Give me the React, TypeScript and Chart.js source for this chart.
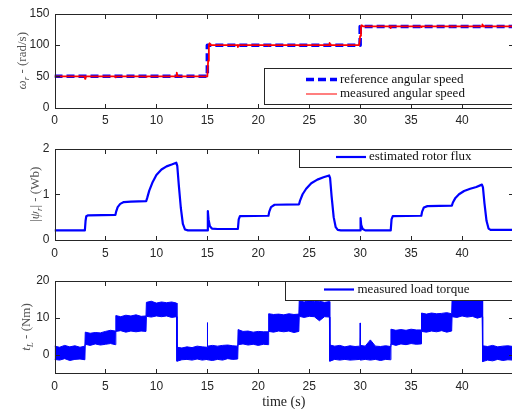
import React, { useEffect, useRef } from 'react';
import { Chart, registerables } from 'chart.js';

Chart.register(...registerables);

// ---------------- data ----------------
const timeTicks = [0, 5, 10, 15, 20, 25, 30, 35, 40];
const speedTicks = [0, 50, 100, 150];
const fluxTicks = [0, 1, 2];
const torqueTicks = [0, 10, 20];

const refSpeedTime = [0, 15, 15, 30, 30, 45];
const refSpeedValue = [50, 50, 100, 100, 130, 130];

const measSpeedTime = [
  0, 2.97, 3.0, 3.04, 5.97, 6.0, 6.04, 8.97, 9.0, 9.04, 11.97, 12.0, 12.06, 12.15,
  15.0, 15.08, 15.15, 15.22, 15.35, 17.97, 18.0, 18.04, 20.97, 21.0, 21.04, 23.97, 24.0, 24.04,
  26.97, 27.0, 27.06, 27.15, 29.9, 30.0, 30.08, 30.15, 30.3, 32.97, 33.0, 33.04, 35.97, 36.0, 36.04,
  38.97, 39.0, 39.04, 41.97, 42.0, 42.06, 42.15, 45,
];
const measSpeedValue = [
  50, 50, 46, 50, 50, 48.5, 50, 50, 49, 50, 50, 56, 51, 50,
  50, 75, 100, 103, 100, 100, 97, 100, 100, 99, 100, 100, 99.5, 100,
  100, 103.5, 101, 100, 100, 115, 130, 132, 130, 130, 127.5, 130, 130, 129, 130,
  130, 129.5, 130, 130, 133.5, 131, 130, 130,
];

const fluxTime = [
  0, 2.98, 3.05, 3.12, 3.3, 5.98, 6.05, 6.2, 6.45, 6.8, 7.5, 9.0, 9.1, 9.3, 9.6, 10.0, 10.5, 11.0, 11.5,
  11.95, 12.05, 12.2, 12.4, 12.6, 12.8, 13.1, 15.0, 15.05, 15.12, 15.25, 15.45, 16.0, 18.0, 18.08, 18.2,
  21.0, 21.08, 21.25, 21.6, 24.0, 24.1, 24.35, 24.7, 25.2, 25.8, 26.4, 26.95, 27.05, 27.2, 27.4, 27.6,
  27.8, 28.1, 30.0, 30.04, 30.1, 30.25, 30.5, 33.0, 33.08, 33.2, 36.0, 36.08, 36.25, 36.6, 39.0, 39.1,
  39.35, 39.7, 40.2, 40.8, 41.4, 41.95, 42.05, 42.2, 42.4, 42.6, 42.8, 45,
];
const fluxValue = [
  0.21, 0.21, 0.42, 0.52, 0.54, 0.55, 0.62, 0.72, 0.79, 0.83, 0.84, 0.85, 0.92, 1.08, 1.25, 1.42, 1.54, 1.61, 1.65,
  1.69, 1.62, 1.2, 0.7, 0.35, 0.23, 0.21, 0.21, 0.63, 0.45, 0.3, 0.25, 0.24, 0.24, 0.45, 0.52,
  0.53, 0.62, 0.72, 0.77, 0.78, 0.86, 1.0, 1.12, 1.24, 1.32, 1.37, 1.41, 1.35, 0.95, 0.5, 0.28,
  0.22, 0.21, 0.21, 0.48, 0.33, 0.24, 0.21, 0.21, 0.45, 0.52, 0.53, 0.62, 0.71, 0.74, 0.75, 0.82,
  0.92, 1.0, 1.07, 1.12, 1.16, 1.21, 1.15, 0.8, 0.42, 0.25, 0.22, 0.22,
];

const torqueTime = [
  0, 0.5, 1, 1.5, 2, 2.5, 2.98,
  3.02, 3.5, 4, 4.5, 5, 5.5, 5.98,
  6.02, 6.5, 7, 7.5, 8, 8.5, 8.98,
  9.02, 9.5, 10, 10.5, 11, 11.5, 11.98,
  12.02, 12.5, 13, 13.5, 14, 14.5, 14.97, 15.0, 15.03, 15.5, 16, 16.5, 17, 17.5, 17.98,
  18.02, 18.5, 19, 19.5, 20, 20.5, 20.98,
  21.02, 21.5, 22, 22.5, 23, 23.5, 23.98,
  24.02, 24.5, 25, 25.5, 26, 26.5, 26.98,
  27.02, 27.5, 28, 28.5, 29, 29.5, 29.97, 30.0, 30.03, 30.5, 31, 31.5, 32, 32.5, 32.98,
  33.02, 33.5, 34, 34.5, 35, 35.5, 35.98,
  36.02, 36.5, 37, 37.5, 38, 38.5, 38.98,
  39.02, 39.5, 40, 40.5, 41, 41.5, 41.98,
  42.02, 42.5, 43, 43.5, 44, 44.5, 45,
];
const torqueUpper = [
  2.3, 2.0, 2.5, 2.1, 2.4, 2.0, 2.3,
  6.1, 5.8, 6.0, 5.9, 6.3, 6.6, 6.4,
  10.6, 10.3, 10.7, 10.5, 10.8, 10.4, 10.5,
  14.2, 14.5, 14.0, 14.3, 14.1, 14.3, 14.0,
  2.0, 1.8, 2.1, 1.9, 2.3, 2.1, 2.0, 8.7, 2.3, 2.5, 2.3, 2.5, 2.6, 2.4, 2.3,
  6.8, 6.3, 6.4, 6.1, 6.3, 6.2, 6.2,
  11.1, 10.9, 11.0, 10.8, 11.1, 10.9, 11.0,
  14.6, 14.3, 14.7, 14.4, 14.5, 14.2, 14.4,
  2.6, 2.3, 2.5, 2.1, 2.4, 2.2, 2.3, 8.6, 2.5, 2.3, 4.0, 2.3, 2.2, 2.4, 2.2,
  6.9, 6.6, 6.8, 6.6, 6.9, 6.7, 6.7,
  11.3, 11.0, 11.3, 11.1, 11.2, 11.4, 11.1,
  15.0, 14.7, 15.0, 14.8, 15.0, 14.8, 15.0,
  2.4, 2.2, 2.5, 2.1, 2.3, 2.4, 2.2,
];
const torqueLower = [
  -1.3, -1.5, -1.1, -1.6, -1.3, -1.2, -1.4,
  2.8, 2.5, 2.9, 2.6, 2.8, 3.0, 2.7,
  6.3, 6.5, 6.1, 6.4, 6.2, 6.4, 6.3,
  10.4, 10.2, 10.5, 10.3, 10.5, 10.1, 10.3,
  -1.8, -1.4, -1.3, -1.5, -1.2, -1.5, -1.3, -1.2, -1.4, -1.6, -1.3, -1.5, -1.1, -1.3, -1.2,
  2.7, 2.9, 2.6, 2.8, 2.5, 2.8, 2.7,
  6.3, 6.1, 6.4, 6.2, 6.4, 6.0, 6.3,
  10.4, 10.1, 10.4, 10.3, 9.2, 10.3, 10.2,
  -1.8, -1.3, -1.5, -1.3, -1.5, -1.4, -1.3, -1.3, -1.5, -1.3, -1.5, -1.3, -1.6, -1.3, -1.4,
  2.9, 2.5, 2.9, 2.7, 3.0, 2.8, 2.9,
  6.3, 6.1, 6.4, 6.2, 6.5, 6.1, 6.4,
  10.3, 10.1, 10.5, 10.2, 10.4, 9.9, 10.3,
  -1.9, -1.5, -1.7, -1.3, -1.6, -1.4, -1.5,
];

// ---------------- style ----------------
const SERIF = '"Liberation Serif", "DejaVu Serif", serif';
const SANS = '"Liberation Sans", Arial, sans-serif';
const AXIS_COLOR = '#262626';
const LABEL_COLOR = '#555555';
const BLUE = '#0000ff';
const RED = '#ff0000';
const CANVAS_W = 520;

const pts = (xs: number[], ys: number[]) => xs.map((x, i) => ({ x, y: ys[i] }));

type Piece = { t: string; italic?: boolean; sub?: boolean };

const framePlugin = {
  id: 'frame',
  afterDatasetsDraw(chart: any, _args: any, opts: any) {
    const { ctx, chartArea: a, scales } = chart;
    ctx.save();
    ctx.strokeStyle = AXIS_COLOR;
    ctx.lineWidth = 1;
    const L = Math.round(a.left) + 0.5;
    const T = Math.round(a.top) + 0.5;
    const R = Math.round(a.right) + 0.5;
    const B = Math.round(a.bottom) + 0.5;
    ctx.strokeRect(L, T, R - L, B - T);
    const tl = 4.5;
    ctx.beginPath();
    scales.x.ticks.forEach((t: any) => {
      const p = Math.round(scales.x.getPixelForValue(t.value)) + 0.5;
      ctx.moveTo(p, B); ctx.lineTo(p, B - tl);
      ctx.moveTo(p, T); ctx.lineTo(p, T + tl);
    });
    scales.y.ticks.forEach((t: any) => {
      const p = Math.round(scales.y.getPixelForValue(t.value)) + 0.5;
      ctx.moveTo(L, p); ctx.lineTo(L + tl, p);
      ctx.moveTo(R, p); ctx.lineTo(R - tl, p);
    });
    ctx.stroke();

    const lg = opts.legend;
    if (lg) {
      const bx = Math.round(lg.left) + 0.5;
      const by = Math.round(lg.top) + 0.5;
      const bw = CANVAS_W - bx;
      const bh = Math.round(lg.height);
      ctx.fillStyle = '#ffffff';
      ctx.fillRect(bx, by, bw, bh);
      ctx.strokeStyle = AXIS_COLOR;
      ctx.lineWidth = 1;
      ctx.strokeRect(bx, by, bw + 10, bh);
      lg.rows.forEach((row: any) => {
        const ds = chart.data.datasets[row.dataset];
        ctx.save();
        ctx.globalAlpha = row.alpha ?? 1;
        ctx.strokeStyle = ds.borderColor;
        ctx.lineWidth = row.width ?? ds.borderWidth;
        ctx.setLineDash(ds.borderDash || []);
        ctx.beginPath();
        ctx.moveTo(row.x0, row.y);
        ctx.lineTo(row.x1, row.y);
        ctx.stroke();
        ctx.restore();
        ctx.fillStyle = '#111111';
        ctx.font = `13px ${SERIF}`;
        ctx.textBaseline = 'middle';
        ctx.textAlign = 'left';
        ctx.fillText(ds.label, row.tx, row.y);
      });
    }

    const yt = opts.yTitle;
    if (yt) {
      const cy = (a.top + a.bottom) / 2;
      const pieces: Piece[] = yt.pieces;
      const fontFor = (p: Piece) =>
        `${p.italic ? 'italic ' : ''}${p.sub ? 9 : 13}px ${SERIF}`;
      let total = 0;
      pieces.forEach((p) => { ctx.font = fontFor(p); total += ctx.measureText(p.t).width; });
      ctx.translate(yt.x, cy);
      ctx.rotate(-Math.PI / 2);
      ctx.fillStyle = LABEL_COLOR;
      ctx.textBaseline = 'alphabetic';
      ctx.textAlign = 'left';
      let x = -total / 2;
      pieces.forEach((p) => {
        ctx.font = fontFor(p);
        ctx.fillText(p.t, x, 4.5 + (p.sub ? 3 : 0));
        x += ctx.measureText(p.t).width;
      });
      ctx.setTransform(1, 0, 0, 1, 0, 0);
    }

    const xt = opts.xTitle;
    if (xt) {
      ctx.fillStyle = '#222222';
      ctx.font = `14px ${SERIF}`;
      ctx.textAlign = 'center';
      ctx.textBaseline = 'middle';
      ctx.fillText(xt.text, (a.left + a.right) / 2, xt.y);
    }
    ctx.restore();
  },
};

function makeOptions(
  yMin: number, yMax: number, yTicks: number[], padTop: number, xHeight: number, frame: any,
) {
  return {
    responsive: false,
    maintainAspectRatio: false,
    animation: false as const,
    devicePixelRatio: 1,
    layout: { padding: { left: 0, right: 7, top: padTop, bottom: 0 } },
    plugins: {
      legend: { display: false },
      tooltip: { enabled: false },
      frame,
    },
    elements: { point: { radius: 0 }, line: { tension: 0, borderJoinStyle: 'round' } },
    scales: {
      x: {
        type: 'linear' as const,
        min: 0,
        max: 45,
        grid: { display: false, drawTicks: false },
        border: { display: false },
        afterBuildTicks: (s: any) => { s.ticks = timeTicks.map((v) => ({ value: v })); },
        afterFit: (s: any) => { s.height = xHeight; },
        ticks: {
          color: AXIS_COLOR,
          font: { family: SANS, size: 12 },
          padding: 6,
          maxRotation: 0,
          autoSkip: false,
        },
      },
      y: {
        type: 'linear' as const,
        min: yMin,
        max: yMax,
        grid: { display: false, drawTicks: false },
        border: { display: false },
        afterBuildTicks: (s: any) => { s.ticks = yTicks.map((v) => ({ value: v })); },
        afterFit: (s: any) => { s.width = 54.5; },
        ticks: {
          color: AXIS_COLOR,
          font: { family: SANS, size: 12 },
          padding: 5,
          autoSkip: false,
        },
      },
    },
  };
}

export default function App() {
  const r1 = useRef<HTMLCanvasElement>(null);
  const r2 = useRef<HTMLCanvasElement>(null);
  const r3 = useRef<HTMLCanvasElement>(null);

  useEffect(() => {
    const charts: Chart[] = [];

    charts.push(new Chart(r1.current!, {
      type: 'line',
      data: {
        datasets: [
          {
            label: 'reference angular speed',
            data: pts(refSpeedTime, refSpeedValue),
            borderColor: BLUE,
            borderWidth: 3.5,
            borderDash: [8, 4],
            fill: false,
            order: 1,
          },
          {
            label: 'measured angular speed',
            data: pts(measSpeedTime, measSpeedValue),
            borderColor: RED,
            borderWidth: 1.8,
            fill: false,
            order: 0,
          },
        ],
      },
      options: makeOptions(0, 150, speedTicks, 14, 27.5, {
        legend: {
          left: 264, top: 68, height: 36,
          rows: [
            { dataset: 0, x0: 306, x1: 337, y: 79.5, tx: 340, width: 3.5 },
            { dataset: 1, x0: 306, x1: 337, y: 94, tx: 340, alpha: 0.5, width: 2 },
          ],
        },
        yTitle: {
          x: 21,
          pieces: [
            { t: 'ω', italic: true }, { t: 'r', italic: true, sub: true }, { t: ' - (rad/s)' },
          ],
        },
      }) as any,
      plugins: [framePlugin],
    }));

    charts.push(new Chart(r2.current!, {
      type: 'line',
      data: {
        datasets: [
          {
            label: 'estimated rotor flux',
            data: pts(fluxTime, fluxValue),
            borderColor: BLUE,
            borderWidth: 2.2,
            fill: false,
          },
        ],
      },
      options: makeOptions(0, 2, fluxTicks, 13.5, 28, {
        legend: {
          left: 299, top: 13.5, height: 18,
          rows: [{ dataset: 0, x0: 336, x1: 366, y: 22, tx: 369, width: 2.2 }],
        },
        yTitle: {
          x: 34,
          pieces: [
            { t: '|' }, { t: 'ψ', italic: true }, { t: 'r', italic: true, sub: true }, { t: '| - (Wb)' },
          ],
        },
      }) as any,
      plugins: [framePlugin],
    }));

    charts.push(new Chart(r3.current!, {
      type: 'line',
      data: {
        datasets: [
          {
            label: 'measured load torque',
            data: pts(torqueTime, torqueUpper),
            borderColor: BLUE,
            backgroundColor: BLUE,
            borderWidth: 1,
            fill: '+1',
          },
          {
            label: 'measured load torque (lower)',
            data: pts(torqueTime, torqueLower),
            borderColor: BLUE,
            backgroundColor: BLUE,
            borderWidth: 1,
            fill: false,
          },
        ],
      },
      options: makeOptions(-5, 20, torqueTicks, 13, 36, {
        legend: {
          left: 285, top: 13, height: 18.5,
          rows: [{ dataset: 0, x0: 324, x1: 354, y: 21.5, tx: 357.5, width: 2.2 }],
        },
        yTitle: {
          x: 25,
          pieces: [
            { t: 't', italic: true }, { t: 'L', italic: true, sub: true }, { t: ' - (Nm)' },
          ],
        },
        xTitle: { text: 'time (s)', y: 134.5 },
      }) as any,
      plugins: [framePlugin],
    }));

    return () => charts.forEach((c) => c.destroy());
  }, []);

  const cs = (top: number, h: number): React.CSSProperties => ({
    position: 'absolute', left: 0, top, width: CANVAS_W, height: h, display: 'block',
  });

  return (
    <div style={{ position: 'fixed', left: 0, top: 0, width: 512, height: 409, overflow: 'hidden', background: '#ffffff' }}>
      <canvas ref={r1} width={CANVAS_W} height={135} style={cs(0, 135)} />
      <canvas ref={r2} width={CANVAS_W} height={133} style={cs(135, 133)} />
      <canvas ref={r3} width={CANVAS_W} height={141} style={cs(268, 141)} />
    </div>
  );
}
